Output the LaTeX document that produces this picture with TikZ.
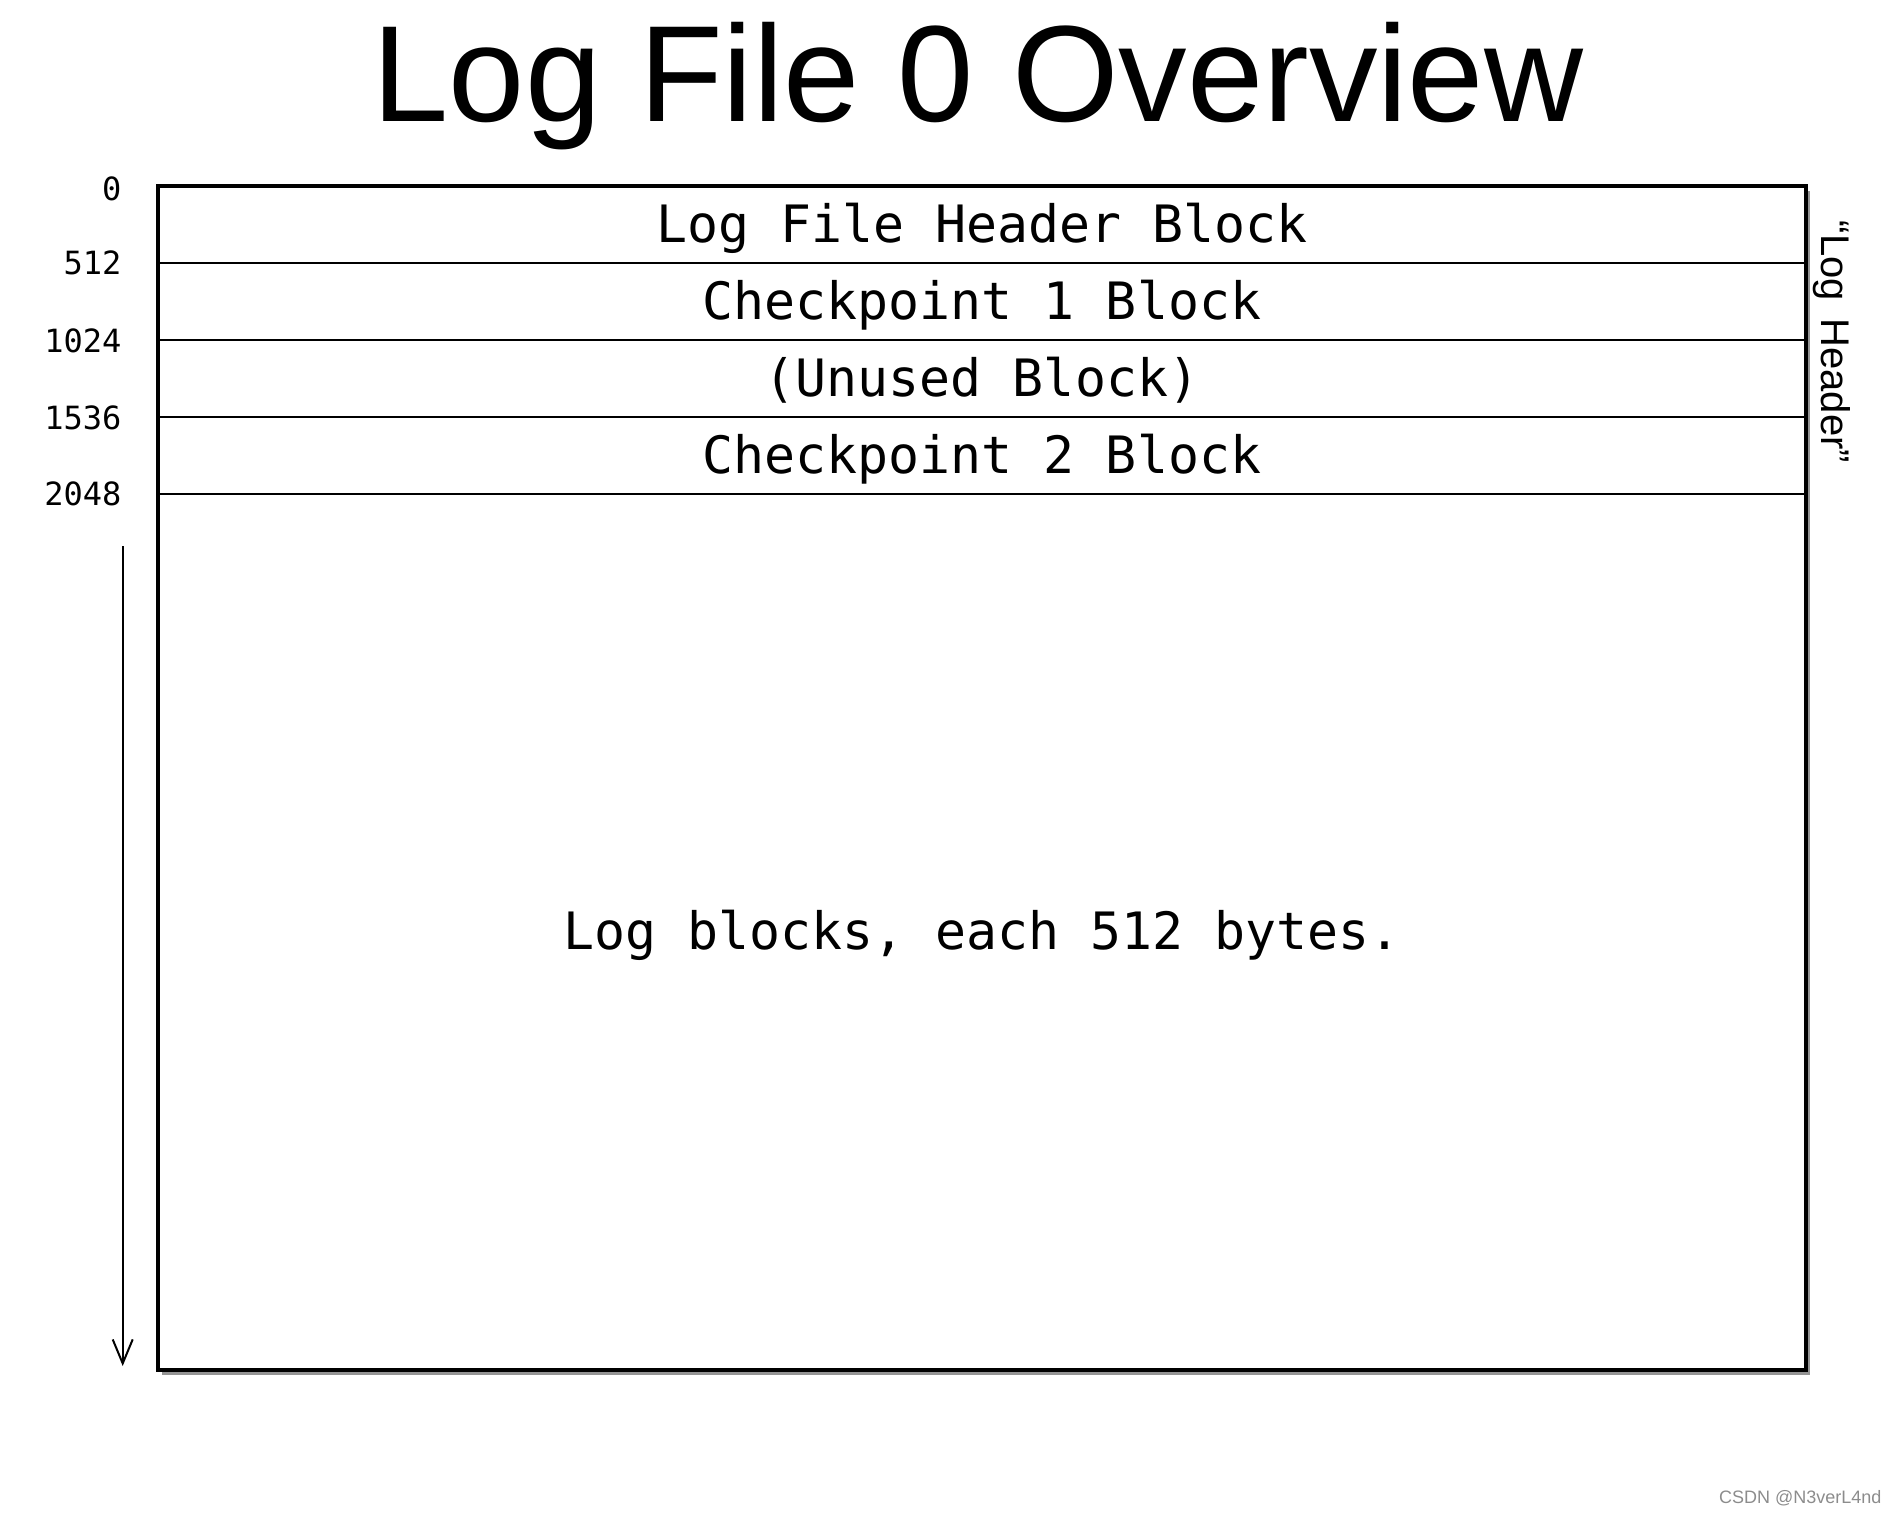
\documentclass[tikz,border=0pt]{standalone}
\usepackage{fontspec}
\setmainfont{Liberation Sans}
\setmonofont{DejaVu Sans Mono}
\usetikzlibrary{arrows.meta,shadows}

\begin{document}
\begin{tikzpicture}[x=1pt,y=-1pt,
    frame/.style={draw,line width=3.5pt,fill=white,minimum width=1648pt,minimum height=1184pt,
        drop shadow={shadow xshift=4pt,shadow yshift=-5pt,opacity=0.6,fill=black!70}},
    blocktext/.style={text height=47pt,text depth=12pt,font=\ttfamily\fontsize{51.5}{60}\selectfont},
    row/.style={blocktext,draw,line width=2pt,minimum width=1648pt,minimum height=77pt},
    offs/.style={anchor=east,font=\ttfamily\fontsize{32}{36}\selectfont},
    flow/.style={line width=2pt,-{Straight Barb[length=24pt,width=20pt,line width=2pt]}}]

    \useasboundingbox (0,0) rectangle (1900,1512);

    \node[anchor=base,font=\fontsize{137}{150}\selectfont] (title) at (978,121) {Log File 0 Overview};

    \node[frame] (log) at (982,778) {};
    \node[row] (hdr) at (982,224.5) {Log File Header Block};
    \node[row] (cp1) at (982,301.5) {Checkpoint 1 Block};
    \node[row] (unused) at (982,378.5) {(Unused Block)};
    \node[row] (cp2) at (982,455.5) {Checkpoint 2 Block};
    \node[blocktext] (body) at (982,932) {Log blocks, each 512 bytes.};

    \node[offs] (o0) at (125,189) {0};
    \node[offs] (o512) at (125,263) {512};
    \node[offs] (o1024) at (125,341) {1024};
    \node[offs] (o1536) at (125,418) {1536};
    \node[offs] (o2048) at (125,494) {2048};

    \node[rotate=-90,font=\fontsize{40}{44}\selectfont] (lh) at (1832,342) {“Log\, Header”};

    \coordinate (start) at (122.7,546);
    \coordinate (end) at (122.7,1366);
    \draw[flow] (start) -- (end);

    \node[anchor=base east,text=black!45,font=\fontsize{18}{20}\selectfont] (wm) at (1885,1503) {CSDN @N3verL4nd};
\end{tikzpicture}
\end{document}
